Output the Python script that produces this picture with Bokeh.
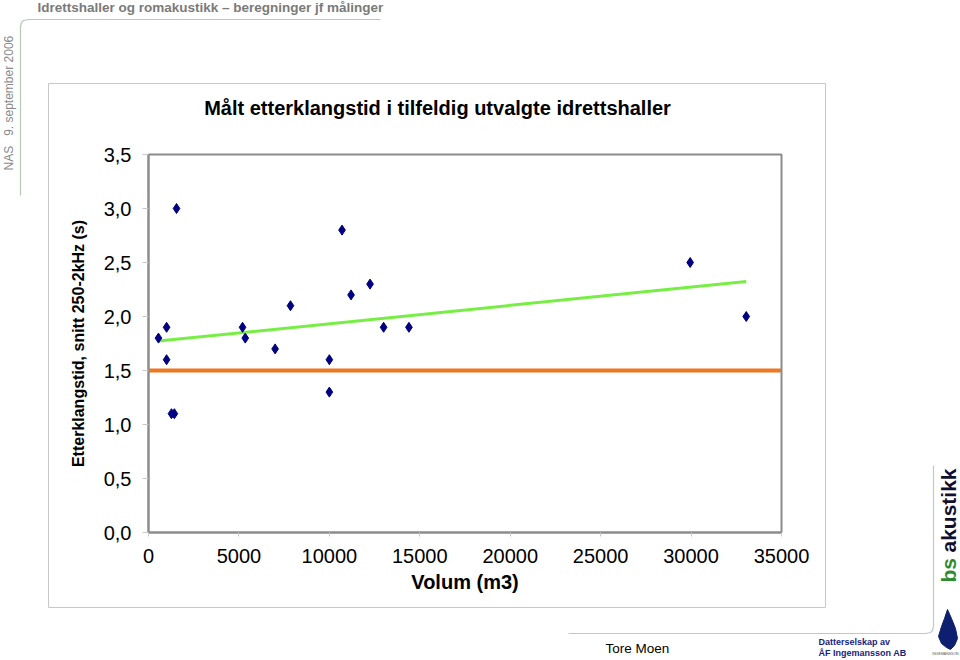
import numpy as np
from bokeh.plotting import figure
from bokeh.models import (Label, Range1d, LinearAxis, Grid, CustomJSTickFormatter,
                          FixedTicker)
from bokeh.embed import file_html
from bokeh.resources import INLINE

# ---- data ----
volume_m3 = [550, 1000, 1000, 1270, 1430, 1550, 5200, 5350, 7000, 7850,
             10000, 10000, 10700, 11200, 12250, 13000, 14400, 29950, 33050]
reverb_s = [1.8, 1.9, 1.6, 1.1, 1.1, 3.0, 1.9, 1.8, 1.7, 2.1,
            1.6, 1.3, 2.8, 2.2, 2.3, 1.9, 1.9, 2.5, 2.0]
reference_level = 1.5
x_ticks = [0, 5000, 10000, 15000, 20000, 25000, 30000, 35000]
y_ticks = [0.0, 0.5, 1.0, 1.5, 2.0, 2.5, 3.0, 3.5]

title_text = "Målt etterklangstid i tilfeldig utvalgte idrettshaller"
x_label = "Volum (m3)"
y_label = "Etterklangstid, snitt 250-2kHz (s)"
header_text = "Idrettshaller og romakustikk \u2013 beregninger jf målinger"
side_text = "NAS\u00a0\u00a0\u00a09. september 2006"

FONT = "Liberation Sans"
W, H = 960, 660
# plot-area position on the page (pixels)
PX_L, PX_R, PX_T, PX_B = 148, 781, 154, 532

xmin, xmax = x_ticks[0], x_ticks[-1]
ymin, ymax = y_ticks[0], y_ticks[-1]
sx = (xmax - xmin) / (PX_R - PX_L)
sy = (ymax - ymin) / (PX_B - PX_T)

p = figure(width=W, height=H, output_backend="svg", toolbar_location=None,
           x_range=Range1d(0, W), y_range=Range1d(H, 0),
           x_axis_type=None, y_axis_type=None, min_border=0)
p.outline_line_color = None
p.background_fill_color = "white"
p.border_fill_color = "white"
p.extra_x_ranges = {"vol": Range1d(xmin - PX_L * sx, xmax + (W - PX_R) * sx)}
p.extra_y_ranges = {"rt": Range1d(ymin - (H - PX_B) * sy, ymax + PX_T * sy)}
R = dict(x_range_name="vol", y_range_name="rt")

# ---- decorations (page pixels) ----
# chart box
p.quad(left=48, right=825, top=83, bottom=607, fill_color="white",
       line_color="#c8c8c8", line_width=1)
# header line with rounded corner, left vertical
p.line([380, 28, 23, 21, 20, 20], [19, 19, 20, 22, 26, 195],
       line_color="#b5cab5", line_width=1.2)
# footer line with rounded corner, right vertical
p.line([568, 925, 930, 932, 933, 933], [633, 633, 632, 630, 626, 465],
       line_color="#bfc9c9", line_width=1.2)

# plot-area gridlines
if "cross_bounds" in Grid.properties():
    p.add_layout(Grid(dimension=1, ticker=FixedTicker(ticks=y_ticks),
                      cross_bounds=(xmin, xmax), grid_line_color="#d9d9d9", **R))
else:
    p.segment(x0=[xmin] * len(y_ticks), x1=[xmax] * len(y_ticks),
              y0=y_ticks, y1=y_ticks, line_color="#d9d9d9", line_width=1, **R)

# reference line
p.line([xmin, xmax], [reference_level, reference_level],
       line_color="#ee7722", line_width=4, **R)

# trend line (least-squares fit of the data)
coef = np.polyfit(volume_m3, reverb_s, 1)
tx = np.array([min(volume_m3), max(volume_m3)])
p.line(tx, np.polyval(coef, tx), line_color="#77ee44", line_width=3, **R)

# points
p.scatter(volume_m3, reverb_s, marker="diamond", size=10,
          fill_color="#000080", line_color="#000080", **R)

# plot-area frame
p.quad(left=xmin, right=xmax, bottom=ymin, top=ymax, fill_color=None,
       line_color="#8c8c8c", line_width=2, **R)

# axes
xaxis = LinearAxis(ticker=FixedTicker(ticks=x_ticks), fixed_location=ymin,
                   bounds=(xmin, xmax), **R)
yaxis = LinearAxis(ticker=FixedTicker(ticks=y_ticks), fixed_location=xmin,
                   bounds=(ymin, ymax), **R)
xaxis.formatter = CustomJSTickFormatter(code="return tick.toFixed(0);")
yaxis.formatter = CustomJSTickFormatter(code="return tick.toFixed(1).replace('.', ',');")
for ax in (xaxis, yaxis):
    ax.axis_line_color = "#8c8c8c"
    ax.axis_line_width = 2
    ax.major_tick_line_color = "#c8c8c8"
    ax.major_tick_in = 0
    ax.minor_tick_line_color = None
    ax.major_label_text_font = FONT
    ax.major_label_text_font_size = "20px"
    ax.major_label_text_color = "#000000"
    ax.axis_label_text_font = FONT
    ax.axis_label_text_font_style = "bold"
    ax.axis_label_text_color = "#000000"
xaxis.major_tick_out = 4
yaxis.major_tick_out = 6
xaxis.major_label_standoff = 12
yaxis.major_label_standoff = 11
xaxis.axis_label = x_label
xaxis.axis_label_text_font_size = "20px"
xaxis.axis_label_standoff = 5
yaxis.axis_label = y_label
yaxis.axis_label_text_font_size = "16px"
yaxis.axis_label_standoff = 14
p.add_layout(xaxis, "below")
p.add_layout(yaxis, "left")


def lab(x, y, text, size, color="#000000", style="normal", align="left",
        angle=0, font=FONT, baseline="middle"):
    p.add_layout(Label(x=x, y=y, text=text,
                       text_font=font, text_font_size=size, text_color=color,
                       text_font_style=style, text_align=align,
                       text_baseline=baseline, angle=angle))


lab(437, 107, title_text, "20px", style="bold", align="center")
lab(37, 7, header_text, "13.5px", color="#7a7a7a", style="bold")
lab(8, 170, side_text, "12px", color="#8a8a8a", angle=np.pi / 2)
lab(605, 648, "Tore Moen", "13.5px")
lab(818, 641, "Datterselskap av", "9px", color="#1a237e", style="bold")
lab(818, 652, "ÅF Ingemansson AB", "9px", color="#1a237e", style="bold")
lab(948, 582, "bs", "21px", color="#2e8b2e", style="bold", angle=np.pi / 2)
lab(948, 552, "akustikk", "21px", color="#101030", style="bold", angle=np.pi / 2)

# logo (shell) and caption
p.patch([947, 951, 955, 957, 954, 950, 946, 941, 938, 941, 944],
        [609, 618, 628, 638, 645, 649, 647, 643, 636, 626, 618],
        fill_color="#0d1f6e", line_color="#0d1f6e")
lab(945, 653, "INGEMANSSON", "3.5px", color="#555555", align="center")

open("out.html", "w").write(file_html(p, INLINE))
